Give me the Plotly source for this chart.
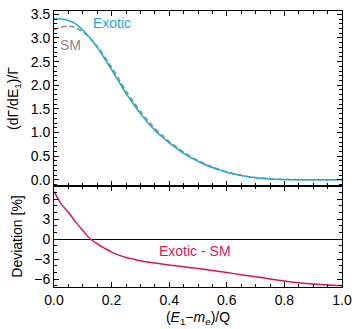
import plotly.graph_objects as go
from plotly.subplots import make_subplots

# Data
x_spec = [0.0, 0.025, 0.05, 0.075, 0.1, 0.125, 0.15, 0.175, 0.2, 0.225, 0.25, 0.275, 0.3,
          0.325, 0.35, 0.375, 0.4, 0.425, 0.45, 0.475, 0.5, 0.525, 0.55, 0.575, 0.6,
          0.65, 0.7, 0.75, 0.8, 0.85, 0.9, 1.0]
exotic = [3.40, 3.40, 3.37, 3.30, 3.17, 3.00, 2.80, 2.57, 2.33, 2.08, 1.83, 1.61, 1.40,
          1.22, 1.05, 0.91, 0.78, 0.67, 0.56, 0.47, 0.39, 0.32, 0.26, 0.21, 0.16,
          0.09, 0.045, 0.02, 0.008, 0.003, 0.0, 0.0]
sm = [3.17, 3.23, 3.25, 3.22, 3.13, 3.00, 2.82, 2.61, 2.38, 2.13, 1.88, 1.66, 1.45,
      1.26, 1.09, 0.945, 0.81, 0.70, 0.584, 0.49, 0.408, 0.335, 0.273, 0.22, 0.168,
      0.095, 0.048, 0.021, 0.0085, 0.003, 0.0, 0.0]

x_dev = [0.0, 0.025, 0.05, 0.075, 0.1, 0.125, 0.15, 0.175, 0.2, 0.225, 0.25, 0.275, 0.3,
         0.325, 0.35, 0.375, 0.4, 0.425, 0.45, 0.475, 0.5, 0.525, 0.55, 0.575, 0.6,
         0.65, 0.7, 0.75, 0.8, 0.85, 0.9, 0.95, 1.0]
deviation = [7.2, 5.3, 4.05, 2.6, 1.3, 0.05, -0.7, -1.35, -1.95, -2.4, -2.75, -3.0, -3.25,
             -3.45, -3.6, -3.75, -3.9, -4.0, -4.15, -4.3, -4.4, -4.55, -4.7, -4.85, -5.0,
             -5.35, -5.65, -6.0, -6.3, -6.55, -6.75, -6.9, -7.0]

C_EXO = "#1ea7d6"
C_SM = "#8a8a8a"
C_DEV = "#d6185a"
FONT = "Liberation Sans, Arial, sans-serif"
FS = 14

fig = make_subplots(rows=2, cols=1, shared_xaxes=True, vertical_spacing=0)

fig.add_trace(go.Scatter(x=x_spec, y=sm, mode="lines",
                         line=dict(color=C_SM, width=1.5, dash="5px,3px", shape="spline", smoothing=0.8),
                         showlegend=False), row=1, col=1)
fig.add_trace(go.Scatter(x=x_spec, y=exotic, mode="lines",
                         line=dict(color=C_EXO, width=1.5, shape="spline", smoothing=0.8),
                         showlegend=False), row=1, col=1)
fig.add_trace(go.Scatter(x=x_dev, y=deviation, mode="lines",
                         line=dict(color=C_DEV, width=1.5, shape="spline", smoothing=0.8),
                         showlegend=False), row=2, col=1)

axis_common = dict(showline=True, linecolor="black", linewidth=1, mirror="ticks", ticks="inside",
                   ticklen=5, tickcolor="black", showgrid=False, zeroline=False, automargin=False,
                   tickfont=dict(family=FONT, size=FS, color="black"))

fig.update_xaxes(**axis_common, range=[0, 1], dtick=0.2, tickformat=".1f",
                 minor=dict(ticks="inside", dtick=0.05, ticklen=3, tickcolor="black"))
fig.update_xaxes(showticklabels=False, row=1, col=1)
fig.update_xaxes(title=dict(text="(<i>E</i><sub>1</sub>−<i>m<sub>e</sub></i>)/Q",
                            font=dict(family=FONT, size=FS, color="black"), standoff=5), row=2, col=1)

fig.update_yaxes(**axis_common)
fig.update_yaxes(range=[-0.13, 3.57], dtick=0.5, tickformat=".1f", domain=[0.366, 1],
                 minor=dict(ticks="inside", dtick=0.1, ticklen=3, tickcolor="black"),
                 title=dict(text="(dΓ/dE<sub>1</sub>)/Γ", font=dict(family=FONT, size=FS, color="black"), standoff=8),
                 row=1, col=1)
fig.update_yaxes(range=[-7.2, 8.0], dtick=3, domain=[0, 0.366],
                 zeroline=True, zerolinecolor="black", zerolinewidth=1,
                 minor=dict(ticks="inside", dtick=1, ticklen=3, tickcolor="black"),
                 title=dict(text="Deviation [%]", font=dict(family=FONT, size=FS, color="black"), standoff=8),
                 row=2, col=1)

fig.add_annotation(x=0.2, y=3.32, xref="x", yref="y", text="Exotic", showarrow=False,
                   font=dict(family=FONT, size=FS, color=C_EXO))
fig.add_annotation(x=0.056, y=2.86, xref="x", yref="y", text="SM", showarrow=False,
                   font=dict(family=FONT, size=FS, color=C_SM))
fig.add_annotation(x=0.49, y=-1.75, xref="x2", yref="y2", text="Exotic - SM", showarrow=False,
                   font=dict(family=FONT, size=FS, color=C_DEV))

fig.update_layout(template="none", width=354, height=329, margin=dict(l=54, r=12, t=11, b=42, autoexpand=False),
                  plot_bgcolor="white", paper_bgcolor="white",
                  font=dict(family=FONT, size=FS, color="black"))

fig.write_html("out.html", config={"displayModeBar": False},
               post_script="document.body.style.margin='0';document.body.style.overflow='hidden';")
